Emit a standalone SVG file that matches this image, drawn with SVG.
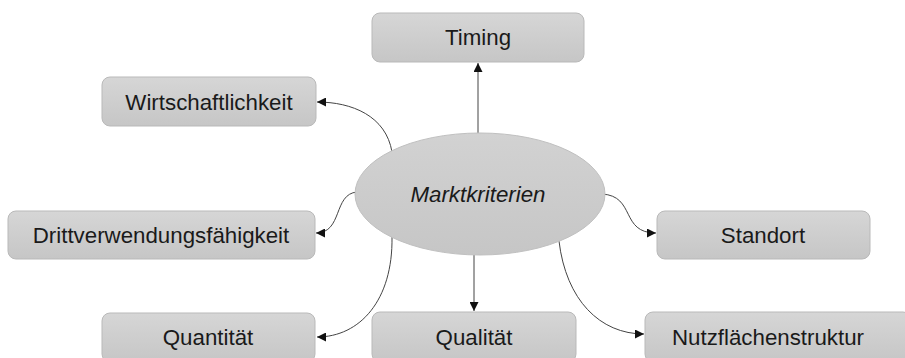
<svg xmlns="http://www.w3.org/2000/svg" width="905" height="358" viewBox="0 0 905 358">
  <defs>
    <linearGradient id="boxFill" x1="0" y1="0" x2="0" y2="1">
      <stop offset="0" stop-color="#d6d6d6"/>
      <stop offset="1" stop-color="#c6c6c6"/>
    </linearGradient>
    <linearGradient id="hubFill" x1="0" y1="0" x2="0" y2="1">
      <stop offset="0" stop-color="#d2d2d2"/>
      <stop offset="1" stop-color="#c6c6c6"/>
    </linearGradient>
    <marker id="arrow" viewBox="0 0 10 10" refX="10" refY="5" markerWidth="9" markerHeight="9" markerUnits="userSpaceOnUse" orient="auto">
      <path d="M0,0 L10,5 L0,10 z" fill="#111"/>
    </marker>
  </defs>
  <style>
    .box { fill: url(#boxFill); stroke: #b9b9b9; stroke-width: 1; }
    .hub { fill: url(#hubFill); stroke: #c0c0c0; stroke-width: 1; }
    .label { font-family: "Liberation Sans", Arial, sans-serif; font-size: 22.3px; fill: #1a1a1a; text-anchor: middle; }
    .hubLabel { font-style: italic; }
    .edge { fill: none; stroke: #444; stroke-width: 1; marker-end: url(#arrow); }
  </style>
  <rect width="905" height="358" fill="#fff"/>

  <g id="connectors">
    <path class="edge" d="M478,133 L478,63"/>
    <path class="edge" d="M392,152 C386,116 352,102 317,102"/>
    <path class="edge" d="M357,192 C333,194 343,233 316,233"/>
    <path class="edge" d="M602,194 C636,196 620,233 656,233"/>
    <path class="edge" d="M392,237 C393,300 360,337 317,337"/>
    <path class="edge" d="M474,255 L474,311"/>
    <path class="edge" d="M559,241 C566,300 600,334 644,334"/>
  </g>

  <g id="timing">
    <rect class="box" x="372" y="13" width="212" height="49" rx="8"/>
    <text class="label" x="478" y="45">Timing</text>
  </g>
  <g id="wirtschaftlichkeit">
    <rect class="box" x="102" y="77" width="214" height="49" rx="8"/>
    <text class="label" x="209" y="110">Wirtschaftlichkeit</text>
  </g>
  <g id="drittverwendungsfaehigkeit">
    <rect class="box" x="8" y="211" width="307" height="48" rx="8"/>
    <text class="label" x="161" y="243">Drittverwendungsfähigkeit</text>
  </g>
  <g id="standort">
    <rect class="box" x="657" y="211" width="213" height="48" rx="8"/>
    <text class="label" x="763" y="243">Standort</text>
  </g>
  <g id="quantitaet">
    <rect class="box" x="102" y="313" width="213" height="49" rx="8"/>
    <text class="label" x="208" y="345">Quantität</text>
  </g>
  <g id="qualitaet">
    <rect class="box" x="372" y="312" width="204" height="50" rx="8"/>
    <text class="label" x="474" y="345">Qualität</text>
  </g>
  <g id="nutzflaechenstruktur">
    <rect class="box" x="645" y="312" width="266" height="50" rx="8"/>
    <text class="label" x="768" y="345">Nutzflächenstruktur</text>
  </g>
  <g id="marktkriterien">
    <ellipse class="hub" cx="480" cy="194" rx="125" ry="61"/>
    <text class="label hubLabel" x="478" y="202">Marktkriterien</text>
  </g>
</svg>
